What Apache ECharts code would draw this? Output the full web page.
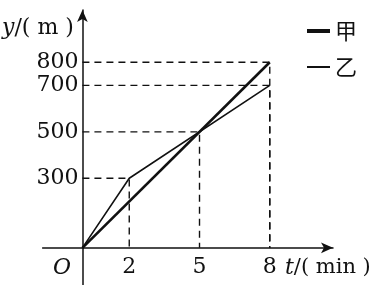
<!DOCTYPE html>
<html><head><meta charset="utf-8">
<script src="https://cdn.jsdelivr.net/npm/echarts@6/dist/echarts.min.js"></script>
<style>html,body{margin:0;padding:0;background:#fff}#c{width:376px;height:285px}</style>
</head><body><div id="c"></div>
<script>
const seriesNames = ['甲', '乙'];
const jiaT = [0, 8];
const jiaY = [0, 800];
const yiT = [0, 2, 8];
const yiY = [0, 300, 700];
const guideT = [2, 5, 8, 8];
const guideY = [300, 500, 800, 700];
const xTicks = [2, 5, 8];
const yTicks = [300, 500, 700, 800];

const ink = '#111';
const serif = 'DejaVu Serif';
const pair = (xs, ys) => xs.map((x, i) => [x, ys[i]]);

// full axis extent (axes extend past the origin)
const W = 376, H = 285;
const G = { left: 42.6, right: 43, top: 10, bottom: 0 };
const X = { min: -1.7, max: 10.7 };
const Y = { min: -160, max: 1025 };
const sx = (W - G.left - G.right) / (X.max - X.min);
const sy = (H - G.top - G.bottom) / (Y.max - Y.min);
const originX = G.left + (0 - X.min) * sx;
const originY = H - G.bottom - (0 - Y.min) * sy;

const guideSeries = guideT.map((t, i) => ({
  type: 'line', silent: true, symbol: 'none', z: 1,
  lineStyle: { color: ink, width: 1.4, type: [7, 5] },
  data: [[0, guideY[i]], [t, guideY[i]], [t, 0]]
}));

const noAxisBits = { axisTick: { show: false }, splitLine: { show: false } };

const chart = echarts.init(document.getElementById('c'));
chart.setOption({
  animation: false,
  backgroundColor: '#fff',
  grid: [
    Object.assign({ containLabel: false, outerBoundsMode: 'none' }, G),
    { left: originX, right: G.right, top: G.top, bottom: H - originY, containLabel: false, outerBoundsMode: 'none' }
  ],
  xAxis: [
    Object.assign({
      type: 'value', gridIndex: 0, min: X.min, max: X.max,
      axisLine: { onZero: true, symbol: ['none', 'arrow'], symbolSize: [8, 12], lineStyle: { color: ink, width: 1.5 } },
      axisLabel: { show: false }
    }, noAxisBits),
    Object.assign({
      type: 'value', gridIndex: 1, min: 0, max: X.max,
      axisLine: { show: false },
      axisLabel: { customValues: xTicks, margin: 8, color: ink, fontFamily: serif, fontSize: 22, hideOverlap: false }
    }, noAxisBits)
  ],
  yAxis: [
    Object.assign({
      type: 'value', gridIndex: 0, min: Y.min, max: Y.max,
      axisLine: { onZero: true, symbol: ['none', 'arrow'], symbolSize: [8, 12], lineStyle: { color: ink, width: 1.5 } },
      axisLabel: { show: false }
    }, noAxisBits),
    Object.assign({
      type: 'value', gridIndex: 1, min: 0, max: Y.max,
      axisLine: { show: false },
      axisLabel: { customValues: yTicks, margin: 4, color: ink, fontFamily: serif, fontSize: 22, hideOverlap: false }
    }, noAxisBits)
  ],
  legend: [
    { data: [seriesNames[0]], left: 302, top: 15, icon: 'rect', itemWidth: 23, itemHeight: 4,
      textStyle: { color: ink, fontFamily: 'Noto Sans CJK SC', fontSize: 22 } },
    { data: [seriesNames[1]], left: 302, top: 51, icon: 'rect', itemWidth: 23, itemHeight: 2,
      textStyle: { color: ink, fontFamily: 'Noto Sans CJK SC', fontSize: 22 } }
  ],
  graphic: [
    { type: 'text', left: 2, top: 17, style: {
      text: '{i|y}/( m )', fill: ink, font: '22px "DejaVu Serif"',
      rich: { i: { fontStyle: 'italic', fontFamily: serif, fontSize: 22, fill: ink } } } },
    { type: 'text', left: 53, top: 257, style: { text: 'O', fill: ink, font: 'italic 22px "DejaVu Serif"' } },
    { type: 'text', left: 285, top: 257, style: {
      text: '{i|t}/( min )', fill: ink, font: '21px "DejaVu Serif"',
      rich: { i: { fontStyle: 'italic', fontFamily: serif, fontSize: 22, fill: ink } } } }
  ],
  series: [
    { name: seriesNames[0], type: 'line', symbol: 'none', z: 3, color: ink,
      lineStyle: { color: ink, width: 2.6 }, data: pair(jiaT, jiaY) },
    { name: seriesNames[1], type: 'line', symbol: 'none', z: 3, color: ink,
      lineStyle: { color: ink, width: 1.6 }, data: pair(yiT, yiY) }
  ].concat(guideSeries)
});
</script></body></html>
